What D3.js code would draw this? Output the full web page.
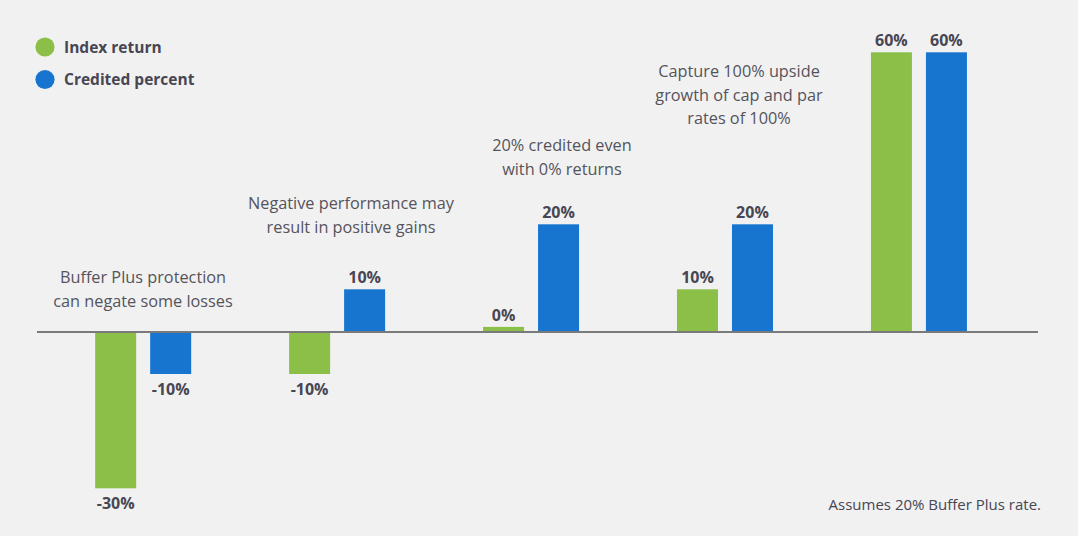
<!DOCTYPE html>
<html><head><meta charset="utf-8">
<script src="https://cdn.jsdelivr.net/npm/d3@7"></script>
<style>html,body{margin:0;padding:0;background:#f1f1f1;}svg{display:block;font-family:"Open Sans",Lato,sans-serif;}</style>
</head><body><div id="chart"></div>
<script>
const scenarios = ["s1","s2","s3","s4","s5"];
const seriesNames = ["Index return","Credited percent"];
const indexReturn = [-30,-10,0,10,60];
const creditedPercent = [-10,10,20,20,60];
const annotations = [
  ["Buffer Plus protection","can negate some losses"],
  ["Negative performance may","result in positive gains"],
  ["20% credited even","with 0% returns"],
  ["Capture 100% upside","growth of cap and par","rates of 100%"],
  []
];
const footnote = "Assumes 20% Buffer Plus rate.";
const colors = ["#8bbf47","#1775d0"];

const W=1078,H=536;
const svg=d3.select("#chart").append("svg").attr("width",W).attr("height",H);
svg.append("rect").attr("width",W).attr("height",H).attr("fill","#f1f1f1");

// the original chart is not drawn to a single linear scale; piecewise linear scale
const y=d3.scaleLinear().domain([-30,-10,0,10,20,60]).range([488.3,374,331.5,289.3,224.3,52.3]);
const x0=d3.scaleBand().domain(scenarios).range([46.2,1015.9]);
const x1=d3.scaleBand().domain([0,1]).range([0,96]).paddingInner(0.2545);
const off=(x0.bandwidth()-96)/2;

const data=scenarios.map((s,i)=>[indexReturn[i],creditedPercent[i]]);
const minH=4.6;

const g=svg.selectAll("g.grp").data(data).join("g").attr("class","grp")
  .attr("transform",(d,i)=>`translate(${x0(scenarios[i])+off},0)`);
g.selectAll("rect").data(d=>d.map((v,k)=>({v,k}))).join("rect")
  .attr("x",d=>x1(d.k)).attr("width",x1.bandwidth())
  .attr("y",d=>d.v>=0?Math.min(y(d.v),y(0)-minH):y(0))
  .attr("height",d=>d.v>=0?Math.max(y(0)-y(d.v),minH):y(d.v)-y(0))
  .attr("fill",d=>colors[d.k]);
g.selectAll("text.val").data(d=>d.map((v,k)=>({v,k}))).join("text").attr("class","val")
  .attr("x",d=>x1(d.k)+x1.bandwidth()/2)
  .attr("y",d=>d.v>=0?Math.min(y(d.v),y(0)-minH)-6:y(d.v)+20.5)
  .attr("text-anchor","middle").attr("font-weight","bold").attr("font-size",16)
  .attr("fill","#474652").text(d=>d.v+"%");

// baseline
svg.append("line").attr("x1",37).attr("x2",1038).attr("y1",y(0)+0.5).attr("y2",y(0)+0.5)
  .attr("stroke","#7a7a7a").attr("stroke-width",2);

// annotations
const annPos=[[143,283],[351,209],[562,151],[739,77]];
annotations.forEach((lines,i)=>{
  if(!lines.length)return;
  const t=svg.append("text").attr("text-anchor","middle").attr("font-size",16.3).attr("fill","#55545c");
  lines.forEach((l,j)=>t.append("tspan").attr("x",annPos[i][0]).attr("y",annPos[i][1]+j*23.5).text(l));
});

// legend
const leg=svg.selectAll("g.leg").data(seriesNames).join("g").attr("class","leg")
  .attr("transform",(d,i)=>`translate(45,${47+i*32.5})`);
leg.append("circle").attr("r",9.6).attr("fill",(d,i)=>colors[i]);
leg.append("text").attr("x",19).attr("y",5.5).attr("font-size",15.5).attr("font-weight","bold")
  .attr("fill","#474652").text(d=>d);

svg.append("text").attr("x",1041).attr("y",510).attr("text-anchor","end").attr("font-size",15)
  .attr("fill","#474652").text(footnote);
</script></body></html>
